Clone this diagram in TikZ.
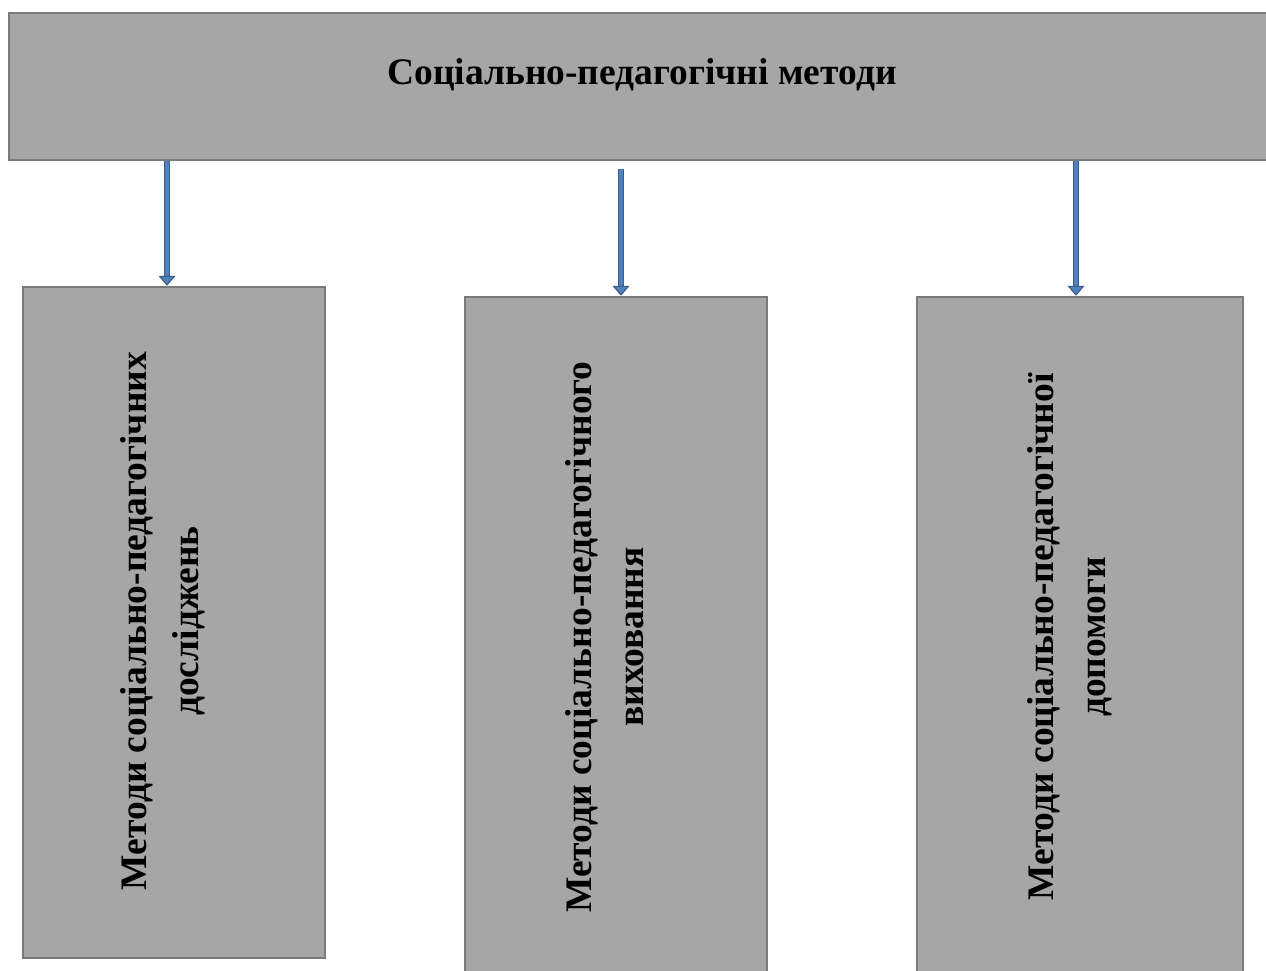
\documentclass[tikz,border=0pt]{standalone}
\usepackage{fontspec}
\setmainfont{Liberation Serif}
\usetikzlibrary{arrows.meta}
\definecolor{BoxClr}{rgb}{0.651,0.651,0.651}
\definecolor{EdgeClr}{rgb}{0.478,0.478,0.478}
\definecolor{ArrowClr}{rgb}{0.31,0.506,0.741}
\definecolor{ArrowEdgeClr}{rgb}{0.22,0.365,0.541}

\begin{document}
\begin{tikzpicture}[x=1pt,y=-1pt,
  box/.style={draw=EdgeClr,fill=BoxClr,line width=2.5pt,inner sep=0pt},
  boxtext/.style={font=\fontsize{37.5}{52}\selectfont\bfseries,align=center,inner sep=0pt},
  link/.style={draw=ArrowEdgeClr,line width=1.2pt,double=ArrowClr,double distance=4pt,
    -{Triangle[width=17pt,length=10pt,fill=ArrowClr]}}]
\useasboundingbox (0,0) rectangle (1266,971);

% Draw the boxes.
\node[box,minimum width=1266pt,minimum height=147pt] (top) at (642,86.5) {};
\node[box,minimum width=302pt,minimum height=671pt] (box1) at (174,622.5) {};
\node[box,minimum width=302pt,minimum height=680pt] (box2) at (616,637) {};
\node[box,minimum width=326pt,minimum height=680pt] (box3) at (1080,637) {};

% Put the texts in the boxes.
\node[boxtext] (title) at (642,75) {Соціально-педагогічні методи};
\node[boxtext,rotate=90] (text1) at (163,621) {Методи соціально-педагогічних\\досліджень};
\node[boxtext,rotate=90] (text2) at (605,637) {Методи соціально-педагогічного\\виховання};
\node[boxtext,rotate=90] (text3) at (1070,637) {Методи соціально-педагогічної\\допомоги};

% The arrows go down from the title box.
\coordinate (a1) at (167,0);
\coordinate (a2) at (621,0);
\coordinate (a3) at (1076,0);
\draw[link] (top.south -| a1) -- (box1.north -| a1);
\draw[link,shorten <=8pt] (top.south -| a2) -- (box2.north -| a2);
\draw[link] (top.south -| a3) -- (box3.north -| a3);

\end{tikzpicture}
\end{document}
